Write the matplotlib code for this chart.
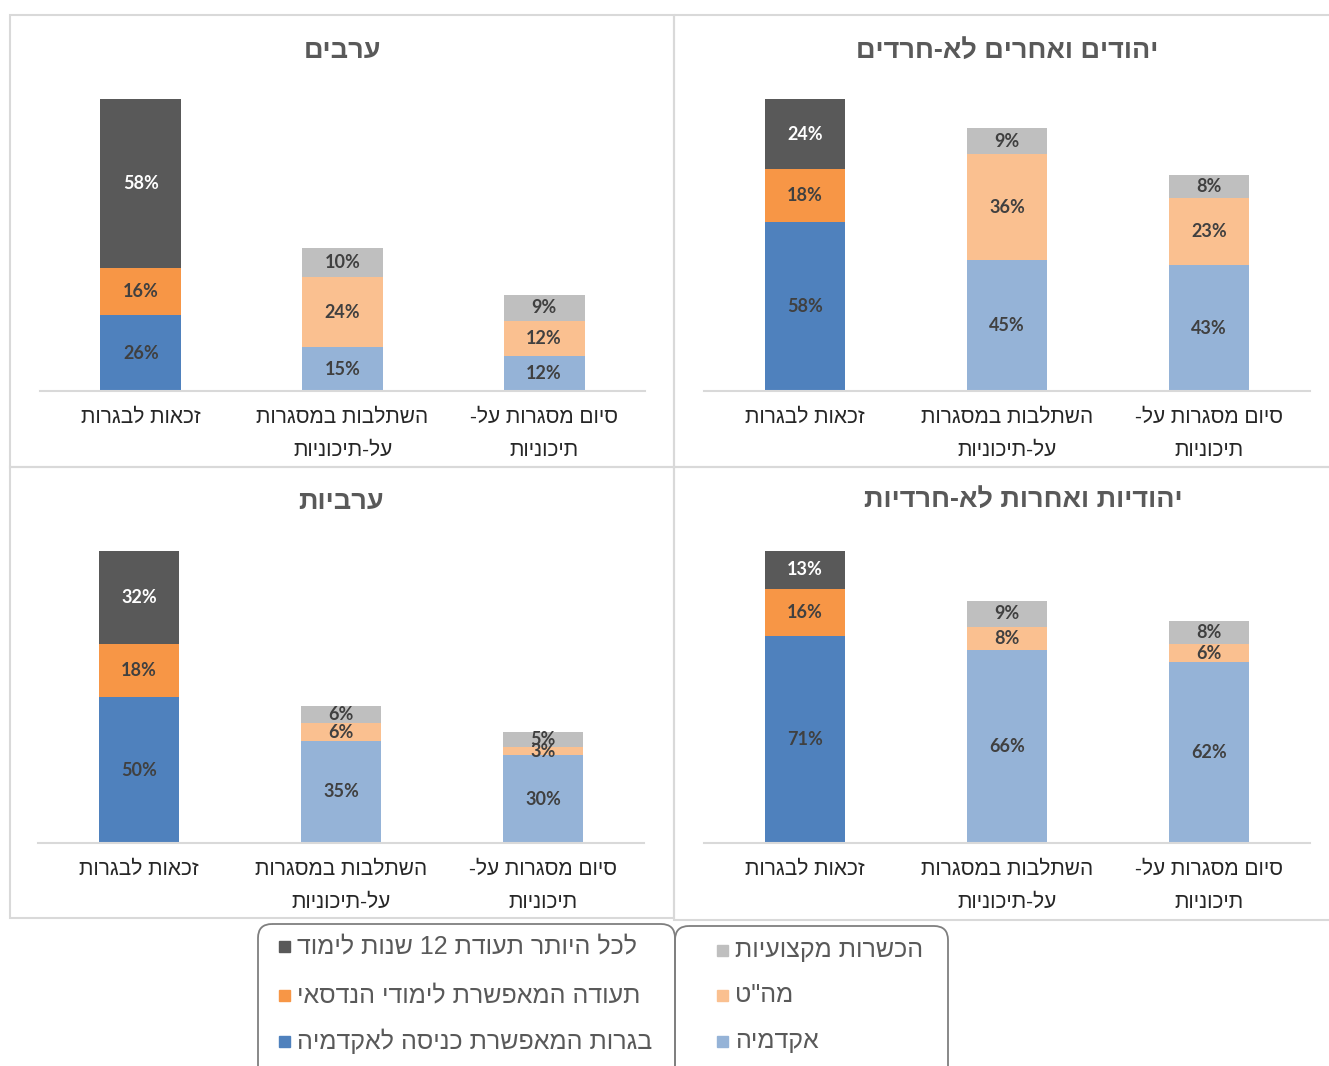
import re
import matplotlib.pyplot as plt
from matplotlib.patches import FancyBboxPatch, Rectangle

# --- data -------------------------------------------------------------
titles = ["ערבים", "יהודים ואחרים לא-חרדים", "ערביות", "יהודיות ואחרות לא-חרדיות"]
categories = ["זכאות לבגרות", "השתלבות במסגרות\nעל-תיכוניות", "סיום מסגרות על-\nתיכוניות"]

# first bar: bagrut for academy / engineering certificate / at most 12 years
bagrut = [26, 58, 50, 71]
handasai = [16, 18, 18, 16]
upto12 = [58, 24, 32, 13]
# bars 2 and 3: academy / mahat / vocational
academy = [[15, 12], [45, 43], [35, 30], [66, 62]]
mahat = [[24, 12], [36, 23], [6, 3], [8, 6]]
vocational = [[10, 9], [9, 8], [6, 5], [9, 8]]

legend_left = ["לכל היותר תעודת 12 שנות לימוד", "תעודה המאפשרת לימודי הנדסאי",
               "בגרות המאפשרת כניסה לאקדמיה"]
legend_right = ["הכשרות מקצועיות", "מה\"ט", "אקדמיה"]

c_blue, c_orange, c_dgrey = "#4F81BD", "#F79646", "#595959"
c_lblue, c_lorange, c_lgrey = "#95B3D7", "#FAC090", "#BFBFBF"

HEB = ["Liberation Sans", "DejaVu Sans"]
NUM = ["Lato", "DejaVu Sans"]


def rtl(s):
    # matplotlib draws left to right: flip each line, keep numbers readable
    return "\n".join(re.sub(r"\d+", lambda m: m.group(0)[::-1], ln[::-1])
                     for ln in s.split("\n"))


W, H = 1329, 1066
fig = plt.figure(figsize=(W / 100, H / 100), dpi=100)

# overlay in pixel coords for frames and legend
ov = fig.add_axes([0, 0, 1, 1])
ov.set_xlim(0, W)
ov.set_ylim(H, 0)
ov.axis("off")
for (x0, y0, x1, y1) in [(10, 15, 674, 467), (674, 15, 1340, 467),
                         (10, 467, 674, 918), (674, 467, 1340, 920)]:
    ov.add_patch(Rectangle((x0, y0), x1 - x0, y1 - y0, fill=False,
                           ec="#D9D9D9", lw=1.5))

# (left, right, baseline, top-of-100%, title x, title y)
panels = [(40, 645, 391, 99, 342, 51), (704, 1310, 391, 99, 1007, 51),
          (38, 644, 843, 551, 341, 502), (704, 1310, 843, 551, 1023, 500)]

for i, (l, r, b, t, tx, ty) in enumerate(panels):
    ax = fig.add_axes([l / W, 1 - b / H, (r - l) / W, (b - t) / H])
    ax.set_facecolor("none")
    x1 = [0]
    x23 = [1, 2]
    wd = 0.4
    segs = []
    segs.append((ax.bar(x1, [bagrut[i]], wd, color=c_blue), "#404040"))
    segs.append((ax.bar(x1, [handasai[i]], wd, bottom=[bagrut[i]], color=c_orange), "#404040"))
    segs.append((ax.bar(x1, [upto12[i]], wd, bottom=[bagrut[i] + handasai[i]],
                        color=c_dgrey), "white"))
    segs.append((ax.bar(x23, academy[i], wd, color=c_lblue), "#404040"))
    bot = academy[i]
    segs.append((ax.bar(x23, mahat[i], wd, bottom=bot, color=c_lorange), "#404040"))
    bot = [a + m for a, m in zip(academy[i], mahat[i])]
    segs.append((ax.bar(x23, vocational[i], wd, bottom=bot, color=c_lgrey), "#404040"))
    for cont, col in segs:
        ax.bar_label(cont, fmt="%d%%", label_type="center", color=col,
                     fontsize=13, fontweight="bold", family=NUM)
    ax.set_xlim(-0.5, 2.5)
    ax.set_ylim(0, 100)
    ax.set_yticks([])
    for s in ["top", "left", "right"]:
        ax.spines[s].set_visible(False)
    ax.spines["bottom"].set_color("#D9D9D9")
    ax.spines["bottom"].set_linewidth(1.5)
    ax.set_xticks([0, 1, 2])
    ax.set_xticklabels([rtl(c) for c in categories], family=HEB, fontsize=15,
                       color="#262626", linespacing=1.95)
    ax.tick_params(axis="x", length=0, pad=12)
    ov.text(tx, ty, rtl(titles[i]), ha="center", va="center", family=HEB,
            fontsize=19.5, fontweight="bold", color="#595959")

# legend
ov.add_patch(FancyBboxPatch((258, 924), 417, 160, boxstyle="round,pad=0,rounding_size=14",
                            fill=False, ec="#7F7F7F", lw=1.3))
ov.add_patch(FancyBboxPatch((675, 926), 273, 160, boxstyle="round,pad=0,rounding_size=14",
                            fill=False, ec="#7F7F7F", lw=1.3))
ys = [946, 995, 1041]
for txt, col, y in zip(legend_left, [c_dgrey, c_orange, c_blue], ys):
    ov.add_patch(Rectangle((279, y - 5), 11, 11, color=col))
    ov.text(297, y, rtl(txt), ha="left", va="center", family=HEB, fontsize=18,
            color="#595959")
for txt, col, y in zip(legend_right, [c_lgrey, c_lorange, c_lblue], [950, 995, 1041]):
    ov.add_patch(Rectangle((717, y - 5), 11, 11, color=col))
    ov.text(735, y, rtl(txt), ha="left", va="center", family=HEB, fontsize=18,
            color="#595959")

fig.savefig("out.png", dpi=100)
